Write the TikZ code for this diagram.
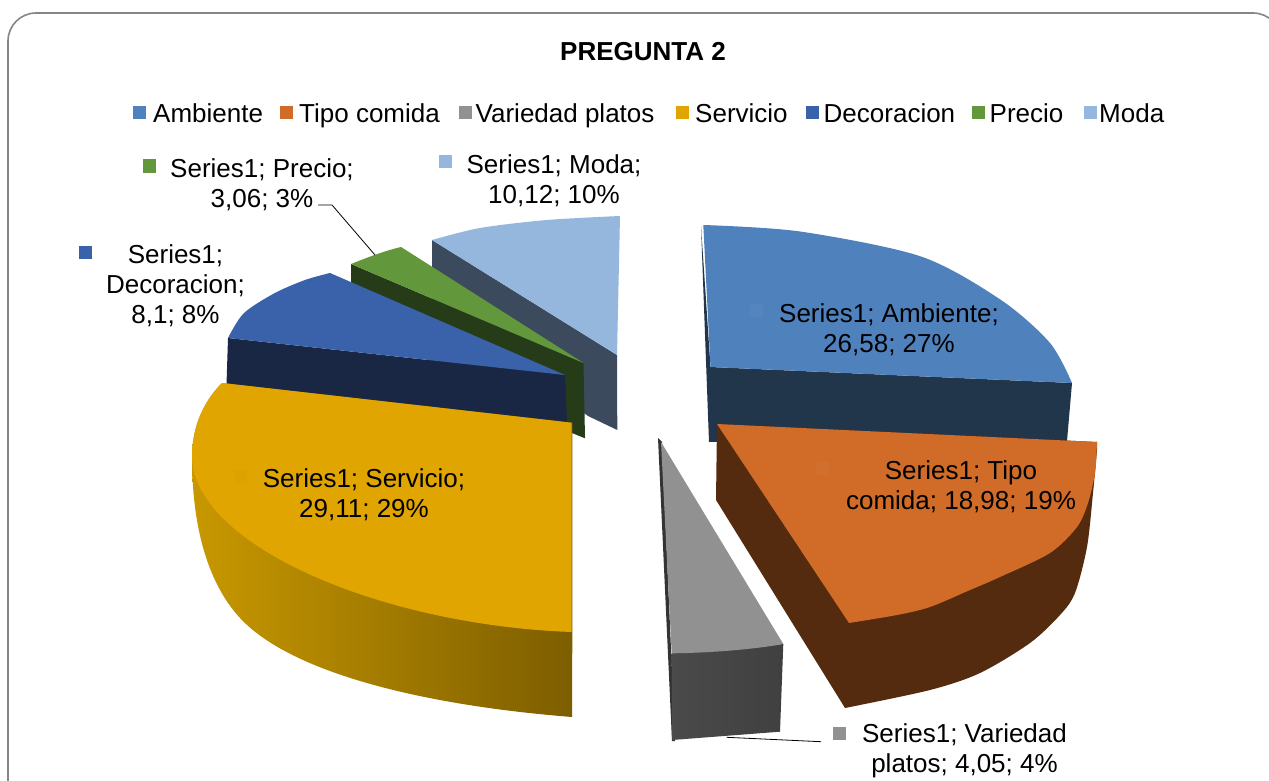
\documentclass[tikz,border=0pt]{standalone}
\usepackage{fontspec}
\setmainfont{Liberation Sans}
\definecolor{ambTop}{RGB}{79,129,189}
\definecolor{ambSide}{RGB}{33,53,75}
\definecolor{tipTop}{RGB}{208,107,40}
\definecolor{tipSide}{RGB}{85,43,16}
\definecolor{varTop}{RGB}{145,145,145}
\definecolor{varSideL}{RGB}{74,74,74}
\definecolor{varSideR}{RGB}{64,64,64}
\definecolor{varEdge}{RGB}{52,52,52}
\definecolor{serTop}{RGB}{224,165,0}
\definecolor{serSideL}{RGB}{200,152,0}
\definecolor{serSideR}{RGB}{125,94,0}
\definecolor{decTop}{RGB}{58,98,170}
\definecolor{decSide}{RGB}{25,39,68}
\definecolor{preTop}{RGB}{98,152,59}
\definecolor{preSide}{RGB}{38,59,24}
\definecolor{modTop}{RGB}{149,182,221}
\definecolor{modSide}{RGB}{60,74,94}
\definecolor{frameGray}{RGB}{134,134,134}
\tikzset{
  lbl/.style={font=\fontsize{26}{30}\selectfont, align=center, inner sep=0pt, text=black},
  leg/.style={font=\fontsize{26}{30}\selectfont, inner sep=0pt, anchor=base west, text=black},
  mk/.style={minimum size=13pt, inner sep=0pt, draw=none},
  leader/.style={draw=black, line width=0.8pt}
}
\begin{document}
\begin{tikzpicture}[x=1pt,y=-1pt]
\useasboundingbox (0,0) rectangle (1269,781);
\clip (0,0) rectangle (1269,781);
\fill[white] (0,0) rectangle (1269,781);
\draw[frameGray, line width=1.6pt, rounded corners=28pt] (8,13) rectangle (1281,812);

% title
\node[font=\fontsize{26}{30}\selectfont\bfseries, inner sep=0pt] (title) at (643,52) {PREGUNTA 2};

% legend
\node[mk, fill=ambTop] (lm1) at (139,113) {};
\node[leg] (lt1) at (153,122.5) {Ambiente};
\node[mk, fill=tipTop] (lm2) at (286,113) {};
\node[leg] (lt2) at (299,122.5) {Tipo comida};
\node[mk, fill=varTop] (lm3) at (465.5,113) {};
\node[leg] (lt3) at (475.5,122.5) {Variedad platos};
\node[mk, fill=serTop] (lm4) at (682.5,113) {};
\node[leg] (lt4) at (695,122.5) {Servicio};
\node[mk, fill=decTop] (lm5) at (812,113) {};
\node[leg] (lt5) at (823.5,122.5) {Decoracion};
\node[mk, fill=preTop] (lm6) at (978,113) {};
\node[leg] (lt6) at (989.5,122.5) {Precio};
\node[mk, fill=modTop] (lm7) at (1090,113) {};
\node[leg] (lt7) at (1099,122.5) {Moda};

% Moda
\fill[modSide] (432,240) -- (617,355) -- (617.3,430) -- (588,416) -- (432,300) -- cycle;
\fill[modTop] plot[smooth] coordinates {(432,240) (480,228) (547,220) (620,216)} -- (617,355) -- cycle;

% Precio
\fill[preSide] (351,264) -- (583.5,363) -- (585,438.3) -- (572.7,433.3) -- (351,320) -- cycle;
\fill[preTop] (351,264) .. controls (366,258) and (384,251) .. (401,247) -- (583.5,363) -- cycle;

% Decoracion
\fill[decSide] (228,338) -- (565,375) -- (567,425) -- (226,400) -- cycle;
\fill[decTop] plot[smooth] coordinates {(228,338) (243.7,313.3) (274.3,293.3) (305,280) (330,273)} -- (565,375) -- cycle;

% Ambiente
\fill[ambSide] (701,226) -- (709,442) -- (1067,441) -- (1072,383) -- (710.5,367) -- cycle;
\fill[ambTop] plot[smooth] coordinates {(703.3,225) (800,231.5) (921,256.5) (1001,300) (1050,343) (1072,383)} -- (710.5,367) -- cycle;

% Servicio
\shade[left color=serSideL, right color=serSideR] (222,383) .. controls (205,400) and (192,425) .. (192,457)
  .. controls (192,520) and (205,580) .. (240,618)
  .. controls (290,672) and (420,705) .. (572.2,717) -- (572.4,422.7) -- cycle;
\fill[serTop] (222,383) .. controls (205,400) and (192,425) .. (192,457)
  .. controls (194,545) and (380,625) .. (571.5,632) -- (571.7,422.7) -- cycle;

% Tipo comida
\fill[tipSide] (717,424) -- (716,500) -- plot[smooth] coordinates {(845,708) (930,690) (980,673) (1030,643) (1060,615) (1075,593) (1087,547) (1093,493) (1097,450) (1097,442)} -- cycle;
\fill[tipTop] (717,424) -- plot[smooth] coordinates {(1097,442) (1095,473) (1088,503) (1077,527) (1050,553) (1000,577) (970,590) (930,607) (897,615) (849,623)} -- cycle;

% Variedad platos
\fill[varEdge] (658,438) -- (672,741) -- (675,741) -- (662,442) -- cycle;
\shade[left color=varSideL, right color=varSideR] (671.7,653.3) -- (672,740) -- (780,731.7) -- (783.3,644) -- cycle;
\fill[varTop] (661,442) -- (783.3,644) .. controls (750,650) and (705,653) .. (671.7,653.3) -- cycle;

% faint markers inside slices
\node[mk, fill=ambTop!97!white] (fm1) at (756,310) {};
\node[mk, fill=tipTop!97!white] (fm2) at (822,468) {};
\node[mk, fill=serTop!98!black] (fm4) at (240,476) {};

% data labels
\node[lbl] (amb) at (889,330) {Series1; Ambiente;\\26,58; 27\%};
\node[lbl] (tip) at (961,487) {Series1; Tipo\\comida; 18,98; 19\%};
\node[lbl] (ser) at (364,495) {Series1; Servicio;\\29,11; 29\%};
\node[lbl] (mod) at (554,181) {Series1; Moda;\\10,12; 10\%};
\node[mk, fill=modTop] (mm) at (445,161.5) {};
\node[lbl] (pre) at (262,185) {Series1; Precio;\\3,06; 3\%};
\node[mk, fill=preTop] (pm) at (149,166) {};
\node[lbl] (dec) at (175.5,286) {Series1;\\Decoracion;\\8,1; 8\%};
\node[mk, fill=decTop] (dm) at (85,252) {};
\node[lbl] (var) at (964.5,751) {Series1; Variedad\\platos; 4,05; 4\%};
\node[mk, fill=varTop] (vm) at (839,733) {};

% leader lines
\coordinate (preA) at (318,205);
\coordinate (preB) at (332,205);
\coordinate (preEnd) at (375,255);
\draw[leader] (preA) -- (preB) -- (preEnd);
\coordinate (varEnd) at (726.7,737.3);
\coordinate (varA) at (821,741.7);
\draw[leader] (varEnd) -- (varA);
\end{tikzpicture}
\end{document}
